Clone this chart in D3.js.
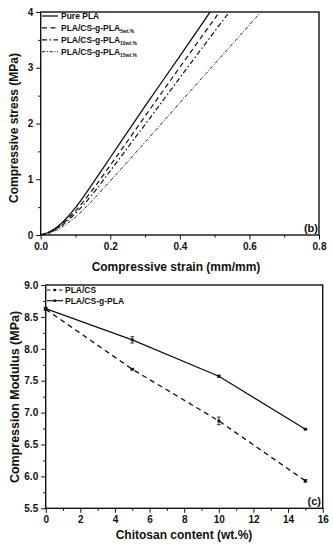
<!DOCTYPE html>
<html>
<head>
<meta charset="utf-8">
<script src="https://cdn.jsdelivr.net/npm/d3@7"></script>
<style>
  body { margin: 0; background: #fff; }
  svg { display: block; font-family: "Liberation Sans", Arial, sans-serif; font-weight: bold; }
</style>
</head>
<body>
<svg id="chart" width="333" height="550"></svg>
<script>
// ---- panel (b): compressive stress-strain curves ----
const strainPure = [0, 0.02, 0.04, 0.06, 0.08, 0.10, 0.12, 0.15, 0.20, 0.30, 0.40, 0.487];
const stressPure = [0, 0.04, 0.11, 0.21, 0.34, 0.49, 0.66, 0.93, 1.39, 2.31, 3.21, 4.0];
const strain5 = [0, 0.02, 0.04, 0.06, 0.08, 0.10, 0.12, 0.15, 0.20, 0.257, 0.30, 0.40, 0.514];
const stress5 = [0, 0.04, 0.10, 0.19, 0.30, 0.43, 0.58, 0.82, 1.25, 1.75, 2.13, 3.01, 4.0];
const strain10 = [0, 0.02, 0.04, 0.06, 0.08, 0.10, 0.12, 0.15, 0.20, 0.266, 0.30, 0.40, 0.542];
const stress10 = [0, 0.035, 0.09, 0.17, 0.27, 0.39, 0.52, 0.74, 1.15, 1.70, 1.98, 2.82, 4.0];
const strain15 = [0, 0.02, 0.04, 0.06, 0.08, 0.10, 0.12, 0.15, 0.20, 0.305, 0.40, 0.50, 0.633];
const stress15 = [0, 0.025, 0.07, 0.14, 0.22, 0.32, 0.44, 0.63, 0.97, 1.70, 2.37, 3.07, 4.0];
const curveNames = ["Pure PLA", "PLA/CS-g-PLA", "PLA/CS-g-PLA", "PLA/CS-g-PLA"];
const curveSubs = ["", "5wt.%", "10wt.%", "15wt.%"];

// ---- panel (c): compression modulus ----
const chitosan = [0, 5, 10, 15];
const modulusCS = [8.62, 7.68, 6.87, 5.93];
const errCS = [0.02, 0.01, 0.06, 0.02];
const modulusGraft = [8.63, 8.14, 7.57, 6.74];
const errGraft = [0.02, 0.05, 0.015, 0.01];
const seriesNames = ["PLA/CS", "PLA/CS-g-PLA"];

const svg = d3.select("#chart");
const ink = "#111";

function frame(g, x, y, xMajor, xMinor, yMajor, yMinor, xFmt, yFmt) {
  const [x0, x1] = x.range();
  const [y0, y1] = y.range();
  g.append("g").attr("transform", `translate(0,${y0})`)
    .call(d3.axisBottom(x).tickValues(xMinor).tickSize(2.5).tickFormat(""));
  g.append("g").attr("transform", `translate(0,${y0})`)
    .call(d3.axisBottom(x).tickValues(xMajor).tickSize(4.5).tickPadding(3).tickFormat(xFmt));
  g.append("g").attr("transform", `translate(${x0},0)`)
    .call(d3.axisLeft(y).tickValues(yMinor).tickSize(2.5).tickFormat(""));
  g.append("g").attr("transform", `translate(${x0},0)`)
    .call(d3.axisLeft(y).tickValues(yMajor).tickSize(4.5).tickPadding(3).tickFormat(yFmt));
  g.selectAll(".domain").remove();
  g.selectAll(".tick line").attr("stroke", ink).attr("stroke-width", 1);
  g.selectAll(".tick text").attr("fill", ink).style("font-size", "10px").style("font-weight", "bold")
    .style("font-family", "'Liberation Sans', Arial, sans-serif");
  g.append("rect").attr("x", x0).attr("y", y1).attr("width", x1 - x0).attr("height", y0 - y1)
    .attr("fill", "none").attr("stroke", ink).attr("stroke-width", 1.4);
}

// ===== top panel =====
const xS = d3.scaleLinear().domain([0, 0.8]).range([40.7, 319]);
const yS = d3.scaleLinear().domain([0, 4]).range([235, 12]);
const gTop = svg.append("g");

gTop.append("clipPath").attr("id", "clipTop").append("rect")
  .attr("x", xS(0)).attr("y", yS(4)).attr("width", xS(0.8) - xS(0)).attr("height", yS(0) - yS(4));

const curves = [
  { xs: strainPure, ys: stressPure, dash: null, w: 1.3 },
  { xs: strain5, ys: stress5, dash: "5,3.5", w: 1.2 },
  { xs: strain10, ys: stress10, dash: "5,2.5,1.5,2.5", w: 1.2 },
  { xs: strain15, ys: stress15, dash: "3.5,1.5,1,1.5", w: 0.9 }
];
const lineTop = d3.line().x(d => xS(d[0])).y(d => yS(d[1])).curve(d3.curveMonotoneX);
gTop.append("g").attr("clip-path", "url(#clipTop)")
  .selectAll("path").data(curves).join("path")
  .attr("d", c => lineTop(c.xs.map((v, i) => [v, c.ys[i]])))
  .attr("fill", "none").attr("stroke", ink)
  .attr("stroke-width", c => c.w)
  .attr("stroke-dasharray", c => c.dash);

frame(gTop, xS, yS, [0, 0.2, 0.4, 0.6, 0.8], [0.1, 0.3, 0.5, 0.7],
  [0, 1, 2, 3, 4], [0.5, 1.5, 2.5, 3.5], d3.format(".1f"), d3.format("d"));

const legTop = gTop.append("g").selectAll("g").data(curves).join("g")
  .attr("transform", (d, i) => `translate(0,${16 + i * 11.9})`);
legTop.append("line").attr("x1", 42).attr("x2", 58).attr("stroke", ink)
  .attr("stroke-width", c => c.w).attr("stroke-dasharray", c => c.dash);
const legTxt = legTop.append("text").attr("x", 61).attr("dy", "0.33em")
  .attr("fill", ink).style("font-size", "8.5px");
legTxt.append("tspan").text((d, i) => curveNames[i]);
legTxt.append("tspan").attr("dy", 2).style("font-size", "5px").text((d, i) => curveSubs[i]);

gTop.append("text").attr("x", 318).attr("y", 232).attr("text-anchor", "end")
  .attr("fill", ink).style("font-size", "11px").text("(b)");
gTop.append("text").attr("x", 176).attr("y", 271).attr("text-anchor", "middle")
  .attr("fill", ink).style("font-size", "12px").text("Compressive strain (mm/mm)");
gTop.append("text").attr("transform", "translate(18,128) rotate(-90)").attr("text-anchor", "middle")
  .attr("fill", ink).style("font-size", "12px").text("Compressive stress (MPa)");

// ===== bottom panel =====
const xB = d3.scaleLinear().domain([0, 16]).range([45.7, 322.7]);
const yB = d3.scaleLinear().domain([5.5, 9]).range([508.3, 285]);
const gBot = svg.append("g");

const series = [
  { vals: modulusCS, errs: errCS, dash: "5,4" },
  { vals: modulusGraft, errs: errGraft, dash: null }
];
const lineB = d3.line().x((d, i) => xB(chitosan[i])).y(d => yB(d));
gBot.selectAll("path.s").data(series).join("path").attr("class", "s")
  .attr("d", s => lineB(s.vals))
  .attr("fill", "none").attr("stroke", ink).attr("stroke-width", 1.3)
  .attr("stroke-dasharray", s => s.dash);

series.forEach(s => {
  const pts = gBot.append("g").selectAll("g").data(s.vals).join("g")
    .attr("transform", (d, i) => `translate(${xB(chitosan[i])},0)`);
  pts.append("line").attr("y1", (d, i) => yB(d + s.errs[i])).attr("y2", (d, i) => yB(d - s.errs[i]))
    .attr("stroke", ink).attr("stroke-width", 0.8);
  pts.append("line").attr("x1", -2).attr("x2", 2)
    .attr("y1", (d, i) => yB(d + s.errs[i])).attr("y2", (d, i) => yB(d + s.errs[i]))
    .attr("stroke", ink).attr("stroke-width", 0.8);
  pts.append("line").attr("x1", -2).attr("x2", 2)
    .attr("y1", (d, i) => yB(d - s.errs[i])).attr("y2", (d, i) => yB(d - s.errs[i]))
    .attr("stroke", ink).attr("stroke-width", 0.8);
  pts.append("rect").attr("x", -1.4).attr("y", d => yB(d) - 1.4)
    .attr("width", 2.8).attr("height", 2.8).attr("fill", ink);
});

frame(gBot, xB, yB, d3.range(0, 17, 2), d3.range(1, 16, 2),
  d3.range(5.5, 9.01, 0.5), d3.range(5.75, 9, 0.5), d3.format("d"), d3.format(".1f"));

const legBot = gBot.append("g").selectAll("g").data(series).join("g")
  .attr("transform", (d, i) => `translate(0,${290 + i * 10.7})`);
legBot.append("line").attr("x1", 47).attr("x2", 63).attr("stroke", ink)
  .attr("stroke-width", 1.2).attr("stroke-dasharray", s => s.dash ? "3.5,2.5" : null);
legBot.append("rect").attr("x", 53.6).attr("y", -1.2).attr("width", 2.4).attr("height", 2.4).attr("fill", ink);
legBot.append("text").attr("x", 65).attr("dy", "0.33em").attr("fill", ink)
  .style("font-size", "8.5px").text((d, i) => seriesNames[i]);

gBot.append("text").attr("x", 321).attr("y", 505).attr("text-anchor", "end")
  .attr("fill", ink).style("font-size", "11px").text("(c)");
gBot.append("text").attr("x", 184).attr("y", 539).attr("text-anchor", "middle")
  .attr("fill", ink).style("font-size", "12px").text("Chitosan content (wt.%)");
gBot.append("text").attr("transform", "translate(18.5,397) rotate(-90)").attr("text-anchor", "middle")
  .attr("fill", ink).style("font-size", "12.5px").text("Compression Modulus (MPa)");
</script>
</body>
</html>
